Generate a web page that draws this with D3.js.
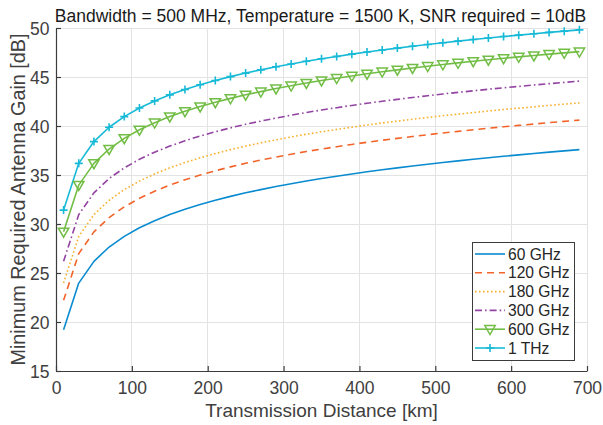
<!DOCTYPE html>
<html>
<head>
<meta charset="utf-8">
<script src="https://cdn.jsdelivr.net/npm/d3@7"></script>
<style>
  html, body { margin: 0; padding: 0; background: #fff; }
  svg { display: block; font-family: "Liberation Sans", Arial, Helvetica, sans-serif; }
</style>
</head>
<body>
<svg id="chart" width="603" height="425"></svg>
<script>
// Transmission distance samples [km]
const distances = [10, 30, 50, 70, 90, 110, 130, 150, 170, 190, 210, 230, 250, 270, 290, 310, 330,
  350, 370, 390, 410, 430, 450, 470, 490, 510, 530, 550, 570, 590, 610, 630, 650, 670, 690];

// Minimum required antenna gain [dB] for each carrier frequency
const gain60GHz = [19.20, 23.97, 26.19, 27.65, 28.74, 29.61, 30.34, 30.96, 31.50, 31.99, 32.42, 32.82,
  33.18, 33.51, 33.82, 34.11, 34.39, 34.64, 34.88, 35.11, 35.33, 35.54, 35.73, 35.92, 36.10, 36.28,
  36.44, 36.60, 36.76, 36.91, 37.05, 37.19, 37.33, 37.46, 37.59];
const gain120GHz = [22.21, 26.98, 29.20, 30.66, 31.75, 32.62, 33.35, 33.97, 34.51, 35.00, 35.43, 35.83,
  36.19, 36.52, 36.83, 37.12, 37.40, 37.65, 37.89, 38.12, 38.34, 38.55, 38.74, 38.93, 39.11, 39.29,
  39.45, 39.61, 39.77, 39.92, 40.06, 40.20, 40.34, 40.47, 40.60];
const gain180GHz = [23.97, 28.74, 30.96, 32.42, 33.51, 34.38, 35.11, 35.73, 36.27, 36.76, 37.19, 37.59,
  37.95, 38.28, 38.59, 38.88, 39.16, 39.41, 39.65, 39.88, 40.10, 40.31, 40.50, 40.69, 40.87, 41.05,
  41.21, 41.37, 41.53, 41.68, 41.82, 41.96, 42.10, 42.23, 42.36];
const gain300GHz = [26.19, 30.96, 33.18, 34.64, 35.73, 36.60, 37.33, 37.95, 38.49, 38.98, 39.41, 39.81,
  40.17, 40.50, 40.81, 41.10, 41.38, 41.63, 41.87, 42.10, 42.32, 42.53, 42.72, 42.91, 43.09, 43.27,
  43.43, 43.59, 43.75, 43.90, 44.04, 44.18, 44.32, 44.45, 44.58];
const gain600GHz = [29.20, 33.97, 36.19, 37.65, 38.74, 39.61, 40.34, 40.96, 41.50, 41.99, 42.42, 42.82,
  43.18, 43.51, 43.82, 44.11, 44.39, 44.64, 44.88, 45.11, 45.33, 45.54, 45.73, 45.92, 46.10, 46.28,
  46.44, 46.60, 46.76, 46.91, 47.05, 47.19, 47.33, 47.46, 47.59];
const gain1THz = [31.42, 36.19, 38.41, 39.87, 40.96, 41.83, 42.56, 43.18, 43.72, 44.21, 44.64, 45.04,
  45.40, 45.73, 46.04, 46.33, 46.61, 46.86, 47.10, 47.33, 47.55, 47.76, 47.95, 48.14, 48.32, 48.50,
  48.66, 48.82, 48.98, 49.13, 49.27, 49.41, 49.55, 49.68, 49.81];

const seriesNames = ["60 GHz", "120 GHz", "180 GHz", "300 GHz", "600 GHz", "1 THz"];
const xTicks = [0, 100, 200, 300, 400, 500, 600, 700];
const yTicks = [15, 20, 25, 30, 35, 40, 45, 50];

const titleText = "Bandwidth = 500 MHz, Temperature = 1500 K, SNR required = 10dB";
const xLabel = "Transmission Distance [km]";
const yLabel = "Minimum Required Antenna Gain [dB]";

// Line styles per series
const styles = [
  { color: "#0a8bd0", dash: null,          marker: null },
  { color: "#f2642a", dash: "7,5",         marker: null },
  { color: "#f7b02c", dash: "1.6,2.4",     marker: null },
  { color: "#9344a2", dash: "7,3,1.6,3",   marker: null },
  { color: "#72bd45", dash: null,          marker: "triangle" },
  { color: "#17bad6", dash: null,          marker: "plus" }
];

const allGains = [gain60GHz, gain120GHz, gain180GHz, gain300GHz, gain600GHz, gain1THz];
const series = seriesNames.map((name, i) => ({
  name,
  style: styles[i],
  points: distances.map((d, j) => ({ d, g: allGains[i][j] }))
}));

const plot = { left: 56, right: 587, top: 28, bottom: 371 };
const textColor = "#262626";
const axisColor = "#3c3c3c";
const gridColor = "#e3e3e3";

const svg = d3.select("#chart");

const x = d3.scaleLinear().domain([0, 700]).range([plot.left, plot.right]);
const y = d3.scaleLinear().domain([15, 50]).range([plot.bottom, plot.top]);

// Grid
const grid = svg.append("g");
grid.selectAll("line.gx").data(xTicks.slice(1)).join("line")
  .attr("x1", d => x(d)).attr("x2", d => x(d))
  .attr("y1", plot.top).attr("y2", plot.bottom)
  .attr("stroke", gridColor).attr("stroke-width", 1).attr("shape-rendering", "crispEdges");
grid.selectAll("line.gy").data(yTicks.slice(1)).join("line")
  .attr("x1", plot.left).attr("x2", plot.right)
  .attr("y1", d => y(d)).attr("y2", d => y(d))
  .attr("stroke", gridColor).attr("stroke-width", 1).attr("shape-rendering", "crispEdges");

// Axes with inward ticks
const xAxis = d3.axisBottom(x).tickValues(xTicks).tickSizeInner(-5).tickSizeOuter(0).tickPadding(11);
const yAxis = d3.axisLeft(y).tickValues(yTicks).tickSizeInner(-5).tickSizeOuter(0).tickPadding(6.5);

const gx = svg.append("g").attr("transform", `translate(0,${plot.bottom})`).call(xAxis);
const gy = svg.append("g").attr("transform", `translate(${plot.left},0)`).call(yAxis);
[gx, gy].forEach(g => {
  g.select(".domain").attr("stroke", axisColor).attr("stroke-width", 1.2);
  g.selectAll(".tick line").attr("stroke", axisColor).attr("stroke-width", 1.2);
  g.selectAll(".tick text").attr("fill", "#404040").attr("font-size", 17.5)
    .attr("font-family", "'Liberation Sans', Arial, sans-serif");
});
gy.selectAll(".tick text").attr("dy", "0.36em");

// Curves
const line = d3.line().x(p => x(p.d)).y(p => y(p.g));
const curves = svg.append("g");
series.forEach(s => {
  curves.append("path")
    .attr("d", line(s.points))
    .attr("fill", "none")
    .attr("stroke", s.style.color)
    .attr("stroke-width", 1.6)
    .attr("stroke-dasharray", s.style.dash)
    .attr("stroke-linejoin", "round");
});

// Marker shapes
function drawMarker(g, type, cx, cy, color) {
  if (type === "plus") {
    g.append("path")
      .attr("d", `M${cx - 4},${cy}H${cx + 4}M${cx},${cy - 4}V${cy + 4}`)
      .attr("stroke", color).attr("stroke-width", 1.6).attr("fill", "none");
  } else if (type === "triangle") {
    g.append("path")
      .attr("d", `M${cx - 5.2},${cy - 3.6}L${cx + 5.2},${cy - 3.6}L${cx},${cy + 5.4}Z`)
      .attr("stroke", color).attr("stroke-width", 1.5).attr("fill", "none")
      .attr("stroke-linejoin", "miter");
  }
}

series.forEach(s => {
  if (!s.style.marker) return;
  const mg = svg.append("g");
  s.points.forEach(p => drawMarker(mg, s.style.marker, x(p.d), y(p.g), s.style.color));
});

// Title and axis labels
svg.append("text")
  .attr("x", (plot.left + plot.right) / 2 - 1).attr("y", 21.5)
  .attr("text-anchor", "middle").attr("font-size", 17.5).attr("fill", "#1a1a1a")
  .text(titleText);

svg.append("text")
  .attr("x", (plot.left + plot.right) / 2).attr("y", 416.5)
  .attr("text-anchor", "middle").attr("font-size", 19).attr("fill", "#404040")
  .text(xLabel);

svg.append("text")
  .attr("transform", `translate(25,${(plot.top + plot.bottom) / 2}) rotate(-90)`)
  .attr("text-anchor", "middle").attr("font-size", 19.8).attr("fill", "#404040")
  .text(yLabel);

// Legend
const legend = { x: 472, y: 242, w: 102, h: 118, rowStart: 254, rowStep: 18.8 };
const lg = svg.append("g");
lg.append("rect")
  .attr("x", legend.x + 0.5).attr("y", legend.y + 0.5)
  .attr("width", legend.w).attr("height", legend.h)
  .attr("fill", "#fff").attr("stroke", "#3c3c3c").attr("stroke-width", 1);

series.forEach((s, i) => {
  const ry = legend.rowStart + i * legend.rowStep;
  lg.append("line")
    .attr("x1", 475).attr("x2", 505).attr("y1", ry).attr("y2", ry)
    .attr("stroke", s.style.color).attr("stroke-width", 1.6)
    .attr("stroke-dasharray", s.style.dash);
  if (s.style.marker) drawMarker(lg, s.style.marker, 490, ry, s.style.color);
  lg.append("text")
    .attr("x", 508).attr("y", ry).attr("dy", "0.36em")
    .attr("font-size", 15.6).attr("fill", textColor)
    .text(s.name);
});
</script>
</body>
</html>
